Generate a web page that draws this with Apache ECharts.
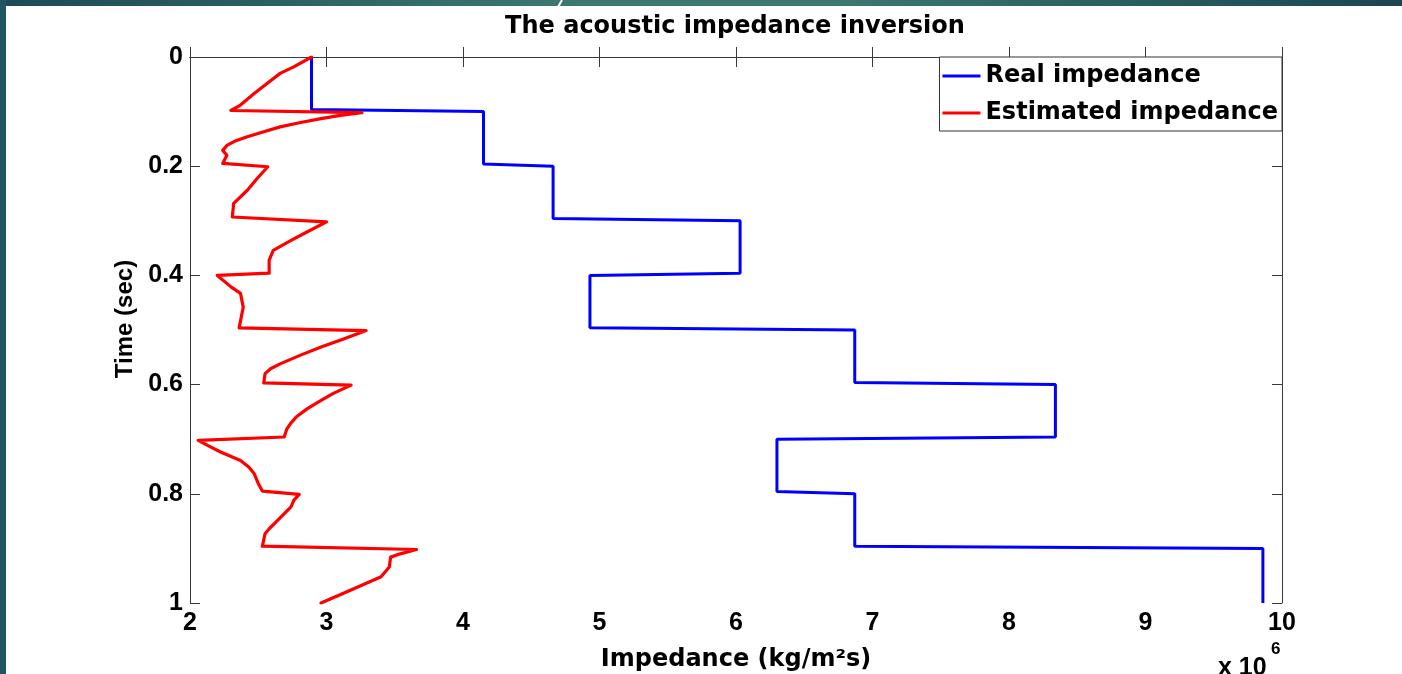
<!DOCTYPE html>
<html>
<head>
<meta charset="utf-8">
<script src="https://cdn.jsdelivr.net/npm/echarts/dist/echarts.min.js"></script>
<style>
  html, body { margin: 0; padding: 0; background: #ffffff; }
  #chart { width: 1402px; height: 674px; }
</style>
</head>
<body>
<div id="chart"></div>
<script>
// ---- Data (impedance in units of 10^6 kg/(m^2 s), time in seconds) ----
var layerTops = [0.0, 0.1, 0.2, 0.3, 0.4, 0.5, 0.6, 0.7, 0.8, 0.9, 1.0];
var realImpedance = [2.89, 4.15, 4.66, 6.03, 4.93, 6.87, 8.34, 6.30, 6.87, 9.86];

var estTime = [0, 0.018, 0.030, 0.067, 0.088, 0.098, 0.102, 0.107, 0.113, 0.120,
  0.128, 0.137, 0.146, 0.154, 0.162, 0.171, 0.180, 0.195, 0.201, 0.223,
  0.244, 0.268, 0.293, 0.302, 0.320, 0.336, 0.354, 0.372, 0.396, 0.400,
  0.421, 0.433, 0.458, 0.496, 0.501, 0.516, 0.531, 0.546, 0.562, 0.571,
  0.580, 0.597, 0.601, 0.616, 0.629, 0.644, 0.659, 0.670, 0.681, 0.696,
  0.702, 0.714, 0.723, 0.739, 0.751, 0.763, 0.781, 0.795, 0.801, 0.812,
  0.824, 0.849, 0.864, 0.873, 0.896, 0.902, 0.910, 0.916, 0.934, 0.952,
  0.974, 1.0];
var estImpedance = [2.89, 2.76, 2.66, 2.47, 2.37, 2.30, 3.26, 3.10, 2.96, 2.81,
  2.66, 2.54, 2.42, 2.33, 2.27, 2.24, 2.27, 2.24, 2.57, 2.49,
  2.42, 2.32, 2.31, 3.00, 2.86, 2.74, 2.61, 2.58, 2.58, 2.20,
  2.30, 2.37, 2.39, 2.36, 3.29, 3.13, 2.96, 2.81, 2.66, 2.59,
  2.55, 2.54, 3.18, 3.05, 2.96, 2.86, 2.78, 2.74, 2.71, 2.69,
  2.06, 2.15, 2.22, 2.37, 2.43, 2.47, 2.50, 2.53, 2.80, 2.76,
  2.74, 2.64, 2.58, 2.55, 2.53, 3.66, 3.54, 3.47, 3.46, 3.40,
  3.20, 2.96];

var seriesNames = ['Real impedance', 'Estimated impedance'];
var titleText = 'The acoustic impedance inversion';

// ---- Build line data ----
var sampleDt = 0.004;
var realData = [];
for (var i = 0; i < realImpedance.length; i++) {
  var t0 = layerTops[i];
  var t1 = layerTops[i + 1];
  realData.push([realImpedance[i], t0]);
  realData.push([realImpedance[i], i === realImpedance.length - 1 ? t1 : t1 - sampleDt]);
}
var estData = [];
for (var k = 0; k < estTime.length; k++) {
  estData.push([estImpedance[k], estTime[k]]);
}

var chart = echarts.init(document.getElementById('chart'));

var axisColor = '#3a3a3a';

function tickLabel(margin) {
  return { margin: margin, fontFamily: 'Liberation Sans', fontWeight: 'bold', fontSize: 25, color: '#000' };
}

var option = {
  animation: false,
  backgroundColor: '#ffffff',
  title: {
    text: titleText,
    left: 735,
    top: 15,
    textAlign: 'center',
    padding: 0,
    textStyle: { fontFamily: 'DejaVu Sans', fontWeight: 'bold', fontSize: 24, color: '#000' }
  },
  legend: {
    data: seriesNames,
    orient: 'vertical',
    right: 120,
    top: 57,
    icon: 'rect',
    itemWidth: 38,
    itemHeight: 3,
    itemGap: 7,
    itemTextGap: 4,
    padding: [4, 4, 3, 3],
    backgroundColor: '#ffffff',
    borderColor: '#333333',
    borderWidth: 1,
    borderRadius: 0,
    textStyle: { fontFamily: 'DejaVu Sans', fontWeight: 'bold', fontSize: 24, color: '#000', lineHeight: 30 }
  },
  grid: { left: 190, right: 120, top: 57, bottom: 71, outerBoundsMode: 'none', containLabel: false },
  xAxis: [{
    type: 'value',
    position: 'bottom',
    min: 2, max: 10, interval: 1,
    name: 'Impedance (kg/m²s)',
    nameLocation: 'middle',
    nameGap: 45,
    nameTextStyle: { fontFamily: 'DejaVu Sans', fontWeight: 'bold', fontSize: 24, color: '#000' },
    axisLine: { show: true, lineStyle: { color: axisColor, width: 1 } },
    axisTick: { show: true, inside: true, length: 10, lineStyle: { color: axisColor } },
    axisLabel: tickLabel(8),
    splitLine: { show: false }
  }, {
    type: 'value',
    position: 'top',
    min: 2, max: 10, interval: 1,
    axisLine: { show: true, lineStyle: { color: axisColor, width: 1 } },
    axisTick: { show: true, inside: true, length: 10, lineStyle: { color: axisColor } },
    axisLabel: { show: false },
    splitLine: { show: false }
  }],
  yAxis: [{
    type: 'value',
    position: 'left',
    inverse: true,
    min: 0, max: 1, interval: 0.2,
    name: 'Time (sec)',
    nameLocation: 'middle',
    nameGap: 49,
    nameTextStyle: { fontFamily: 'Liberation Sans', fontWeight: 'bold', fontSize: 24, color: '#000', padding: [0, 0, 0, 22] },
    axisLine: { show: true, lineStyle: { color: axisColor, width: 1 } },
    axisTick: { show: true, inside: true, length: 10, lineStyle: { color: axisColor } },
    axisLabel: tickLabel(7),
    splitLine: { show: false }
  }, {
    type: 'value',
    position: 'right',
    inverse: true,
    min: 0, max: 1, interval: 0.2,
    axisLine: { show: true, lineStyle: { color: axisColor, width: 1 } },
    axisTick: { show: true, inside: true, length: 10, lineStyle: { color: axisColor } },
    axisLabel: { show: false },
    splitLine: { show: false }
  }],
  series: [{
    name: seriesNames[0],
    type: 'line',
    xAxisIndex: 0, yAxisIndex: 0,
    data: realData,
    showSymbol: false,
    symbol: 'none',
    lineStyle: { color: '#0000ff', width: 3 },
    itemStyle: { color: '#0000ff' },
    z: 3
  }, {
    name: seriesNames[1],
    type: 'line',
    xAxisIndex: 0, yAxisIndex: 0,
    data: estData,
    showSymbol: false,
    symbol: 'none',
    lineStyle: { color: '#ff0000', width: 3.2, join: 'round', cap: 'round' },
    itemStyle: { color: '#ff0000' },
    z: 4
  }],
  graphic: {
    elements: [
      {
        type: 'rect', left: 0, top: 0, z: 100,
        shape: { width: 1402, height: 6 },
        style: {
          fill: {
            type: 'linear', x: 0, y: 0, x2: 1, y2: 0,
            colorStops: [
              { offset: 0, color: '#1d4a56' },
              { offset: 0.4, color: '#3a7870' },
              { offset: 0.6, color: '#3a7870' },
              { offset: 1, color: '#1b4550' }
            ]
          }
        }
      },
      {
        type: 'line', z: 101,
        shape: { x1: 562, y1: 0, x2: 558, y2: 7 },
        style: { stroke: '#ffffff', lineWidth: 2 }
      },
      {
        type: 'rect', left: 0, top: 0, z: 100,
        shape: { width: 6, height: 674 },
        style: { fill: '#1f5660' }
      },
      {
        type: 'text', z: 50,
        left: 1218, top: 656,
        style: { text: 'x 10', font: 'bold 25px "Liberation Sans"', fill: '#000' }
      },
      {
        type: 'text', z: 50,
        left: 1271, top: 641,
        style: { text: '6', font: 'bold 17px "Liberation Sans"', fill: '#000' }
      }
    ]
  }
};

chart.setOption(option);
</script>
</body>
</html>
